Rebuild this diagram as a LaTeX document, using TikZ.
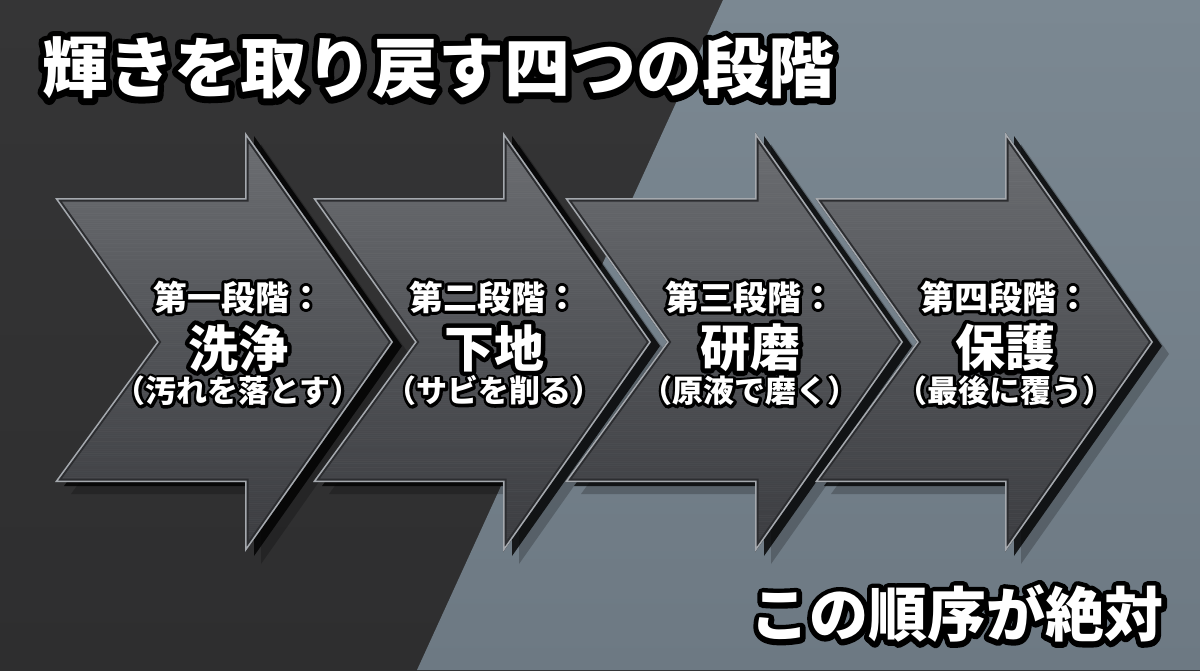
\documentclass[tikz,border=0pt]{standalone}
\usepackage{fontspec}
\newfontfamily\cjk{Noto Sans CJK JP}
\newfontfamily\cjkol{Noto Sans CJK JP}[BoldFeatures={FakeBold=18}]
\usetikzlibrary{calc}
\definecolor{bgdark}{HTML}{2E2E2F}
\definecolor{bgdark2}{HTML}{353536}
\definecolor{bgblue}{HTML}{7B8892}
\definecolor{bgblue2}{HTML}{6D7983}
\definecolor{mettop}{HTML}{6C6E72}
\definecolor{metmid}{HTML}{515357}
\definecolor{metbot}{HTML}{3B3C40}
\definecolor{bevdark}{HTML}{2C2D30}
\definecolor{bevlight}{HTML}{A5A9AE}
\newcommand\outl[1]{\makebox[0pt][l]{\color{black}\cjkol\bfseries #1}#1}
\tikzset{
  lbl/.style={text=white, inner sep=0pt, font=\cjk\bfseries, line join=round, miter limit=1},
  metal/.style={top color=mettop, bottom color=metbot, middle color=metmid},
}
\def\arr#1{(#1,198) -- ({#1+190},198) -- ({#1+190},132) -- ({#1+338},342) -- ({#1+190},552) -- ({#1+190},482) -- (#1,482) -- ({#1+102},342) -- cycle}
\begin{document}
\begin{tikzpicture}[x=1pt,y=-1pt, line join=round, miter limit=1]
\useasboundingbox (0,0) rectangle (1200,670);
% background
\shade[top color=bgdark2, bottom color=bgdark] (0,0) rectangle (1200,670);
\shade[top color=bgblue, bottom color=bgblue2] (723,0) -- (1200,0) -- (1200,670) -- (417,670) -- cycle;
% shadows
\foreach \x in {55,313,565,815} {
  \fill[black, opacity=0.22, shift={(16,12)}] \arr{\x};
  \fill[black, opacity=0.8, shift={(9,4)}] \arr{\x};
}
% arrows
\foreach \x in {55,313,565,815} {
  \begin{scope}
    \clip \arr{\x};
    \shade[metal] (\x,132) rectangle ({\x+340},552);
    \foreach \yy in {133,135,...,551} {
      \pgfmathsetmacro\op{0.005+0.025*rnd}
      \draw[white, opacity=\op, line width=0.6] (\x,\yy) -- ({\x+340},\yy);
    }
    \draw[bevdark, line width=7, line join=miter, miter limit=10] \arr{\x};
    \draw[bevlight, line width=3, line join=miter, miter limit=10] \arr{\x};
  \end{scope}
}
% title
\node[lbl, anchor=west, font=\cjk\bfseries\fontsize{66}{70}\selectfont] (title) at (42,68)
  {\outl{輝きを取り戻す四つの段階}};
% stage texts
\foreach \cx/\n/\a/\b/\c in {238/1/第一段階：/洗浄/（汚れを落とす）, 494/2/第二段階：/下地/（サビを削る）, 750/3/第三段階：/研磨/（原液で磨く）, 1005/4/第四段階：/保護/（最後に覆う）} {
  \node[lbl, font=\cjk\bfseries\fontsize{34}{38}\selectfont] (s\n a) at (\cx,297) {\outl{\a}};
  \node[lbl, font=\cjk\bfseries\fontsize{50}{54}\selectfont] (s\n b) at (\cx,348) {\outl{\b}};
  \node[lbl, font=\cjk\bfseries\fontsize{31}{35}\selectfont] (s\n c) at (\cx,391) {\outl{\c}};
}
% footer
\node[lbl, font=\cjk\bfseries\fontsize{59}{63}\selectfont] (foot) at (957,614)
  {\outl{この順序が絶対}};
\end{tikzpicture}
\end{document}
